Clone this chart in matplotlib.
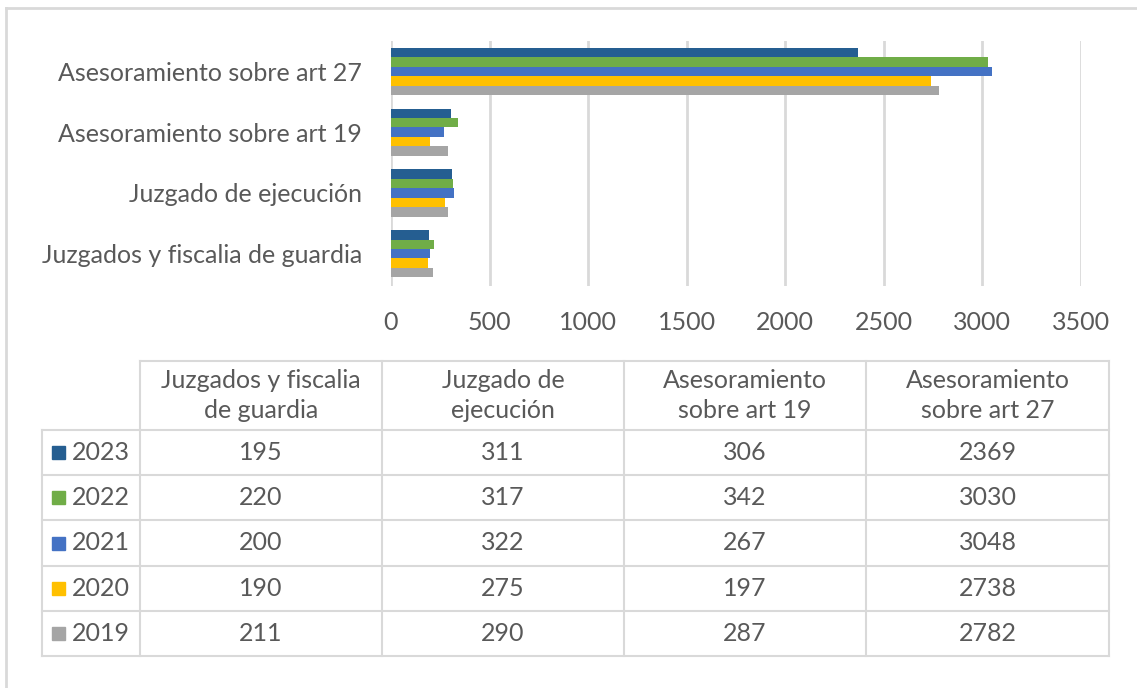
import numpy as np
import matplotlib.pyplot as plt
from matplotlib.patches import Rectangle

# Datos del gráfico
categorias = ['Juzgados y fiscalia de guardia', 'Juzgado de ejecución',
              'Asesoramiento sobre art 19', 'Asesoramiento sobre art 27']
cabeceras = ['Juzgados y fiscalia\nde guardia', 'Juzgado de\nejecución',
             'Asesoramiento\nsobre art 19', 'Asesoramiento\nsobre art 27']
anios = ['2023', '2022', '2021', '2020', '2019']
v2023 = [195, 311, 306, 2369]
v2022 = [220, 317, 342, 3030]
v2021 = [200, 322, 267, 3048]
v2020 = [190, 275, 197, 2738]
v2019 = [211, 290, 287, 2782]
valores = [v2023, v2022, v2021, v2020, v2019]
colores = ['#255E91', '#70AD47', '#4472C4', '#FFC000', '#A5A5A5']

W, H = 1137, 688
GRIS_TXT = '#595959'
GRIS_LIN = '#D9D9D9'
FS = 18
plt.rcParams['font.family'] = ['Lato', 'DejaVu Sans']

fig = plt.figure(figsize=(W / 100, H / 100), dpi=100)


def px(x0, y0, x1, y1):
    return [x0 / W, 1 - y1 / H, (x1 - x0) / W, (y1 - y0) / H]


# Barras
ax = fig.add_axes(px(391, 41, 1081, 286))
y = np.arange(len(categorias))
h = 0.155
for i, (anio, vals) in enumerate(zip(anios, valores)):
    ax.barh(y + (2 - i) * h, vals, height=h, color=colores[i], zorder=3)
ax.set_xlim(0, 3500)
ax.set_ylim(-0.53, len(categorias) - 0.5)
ax.set_xticks(np.arange(0, 3501, 500))
ax.set_yticks(y)
ax.set_yticklabels(categorias)
ax.grid(axis='x', color=GRIS_LIN, lw=2, zorder=0)
for s in ax.spines.values():
    s.set_visible(False)
ax.tick_params(length=0, labelsize=FS, colors=GRIS_TXT)
ax.tick_params(axis='x', pad=18)
ax.tick_params(axis='y', pad=21)

# Tabla y marco
tx = fig.add_axes([0, 0, 1, 1])
tx.set_xlim(0, W)
tx.set_ylim(H, 0)
tx.axis('off')
tx.plot([6, W], [8, 8], color=GRIS_LIN, lw=2)
tx.plot([6, 6], [8, H], color=GRIS_LIN, lw=2)

cols = [42, 140, 382, 624, 866, 1109]
filas = [361, 430, 475, 520, 566, 611, 656]
tx.plot([cols[1], cols[-1]], [filas[0]] * 2, color=GRIS_LIN, lw=1.5)
for yy in filas[1:]:
    tx.plot([cols[0], cols[-1]], [yy, yy], color=GRIS_LIN, lw=1.5)
tx.plot([cols[0]] * 2, [filas[1], filas[-1]], color=GRIS_LIN, lw=1.5)
for xx in cols[1:]:
    tx.plot([xx, xx], [filas[0], filas[-1]], color=GRIS_LIN, lw=1.5)

for j, cab in enumerate(cabeceras):
    xc = (cols[j + 1] + cols[j + 2]) / 2
    tx.text(xc, (filas[0] + filas[1]) / 2, cab, ha='center', va='center',
            fontsize=FS, color=GRIS_TXT, linespacing=1.4)

for i, (anio, vals) in enumerate(zip(anios, valores)):
    yc = (filas[i + 1] + filas[i + 2]) / 2
    tx.add_patch(Rectangle((52, yc - 6.5), 13, 13, color=colores[i]))
    tx.text(72, yc, anio, ha='left', va='center', fontsize=FS, color=GRIS_TXT)
    for j, v in enumerate(vals):
        xc = (cols[j + 1] + cols[j + 2]) / 2
        tx.text(xc, yc, str(v), ha='center', va='center', fontsize=FS, color=GRIS_TXT)

fig.savefig('out.png', dpi=100)
